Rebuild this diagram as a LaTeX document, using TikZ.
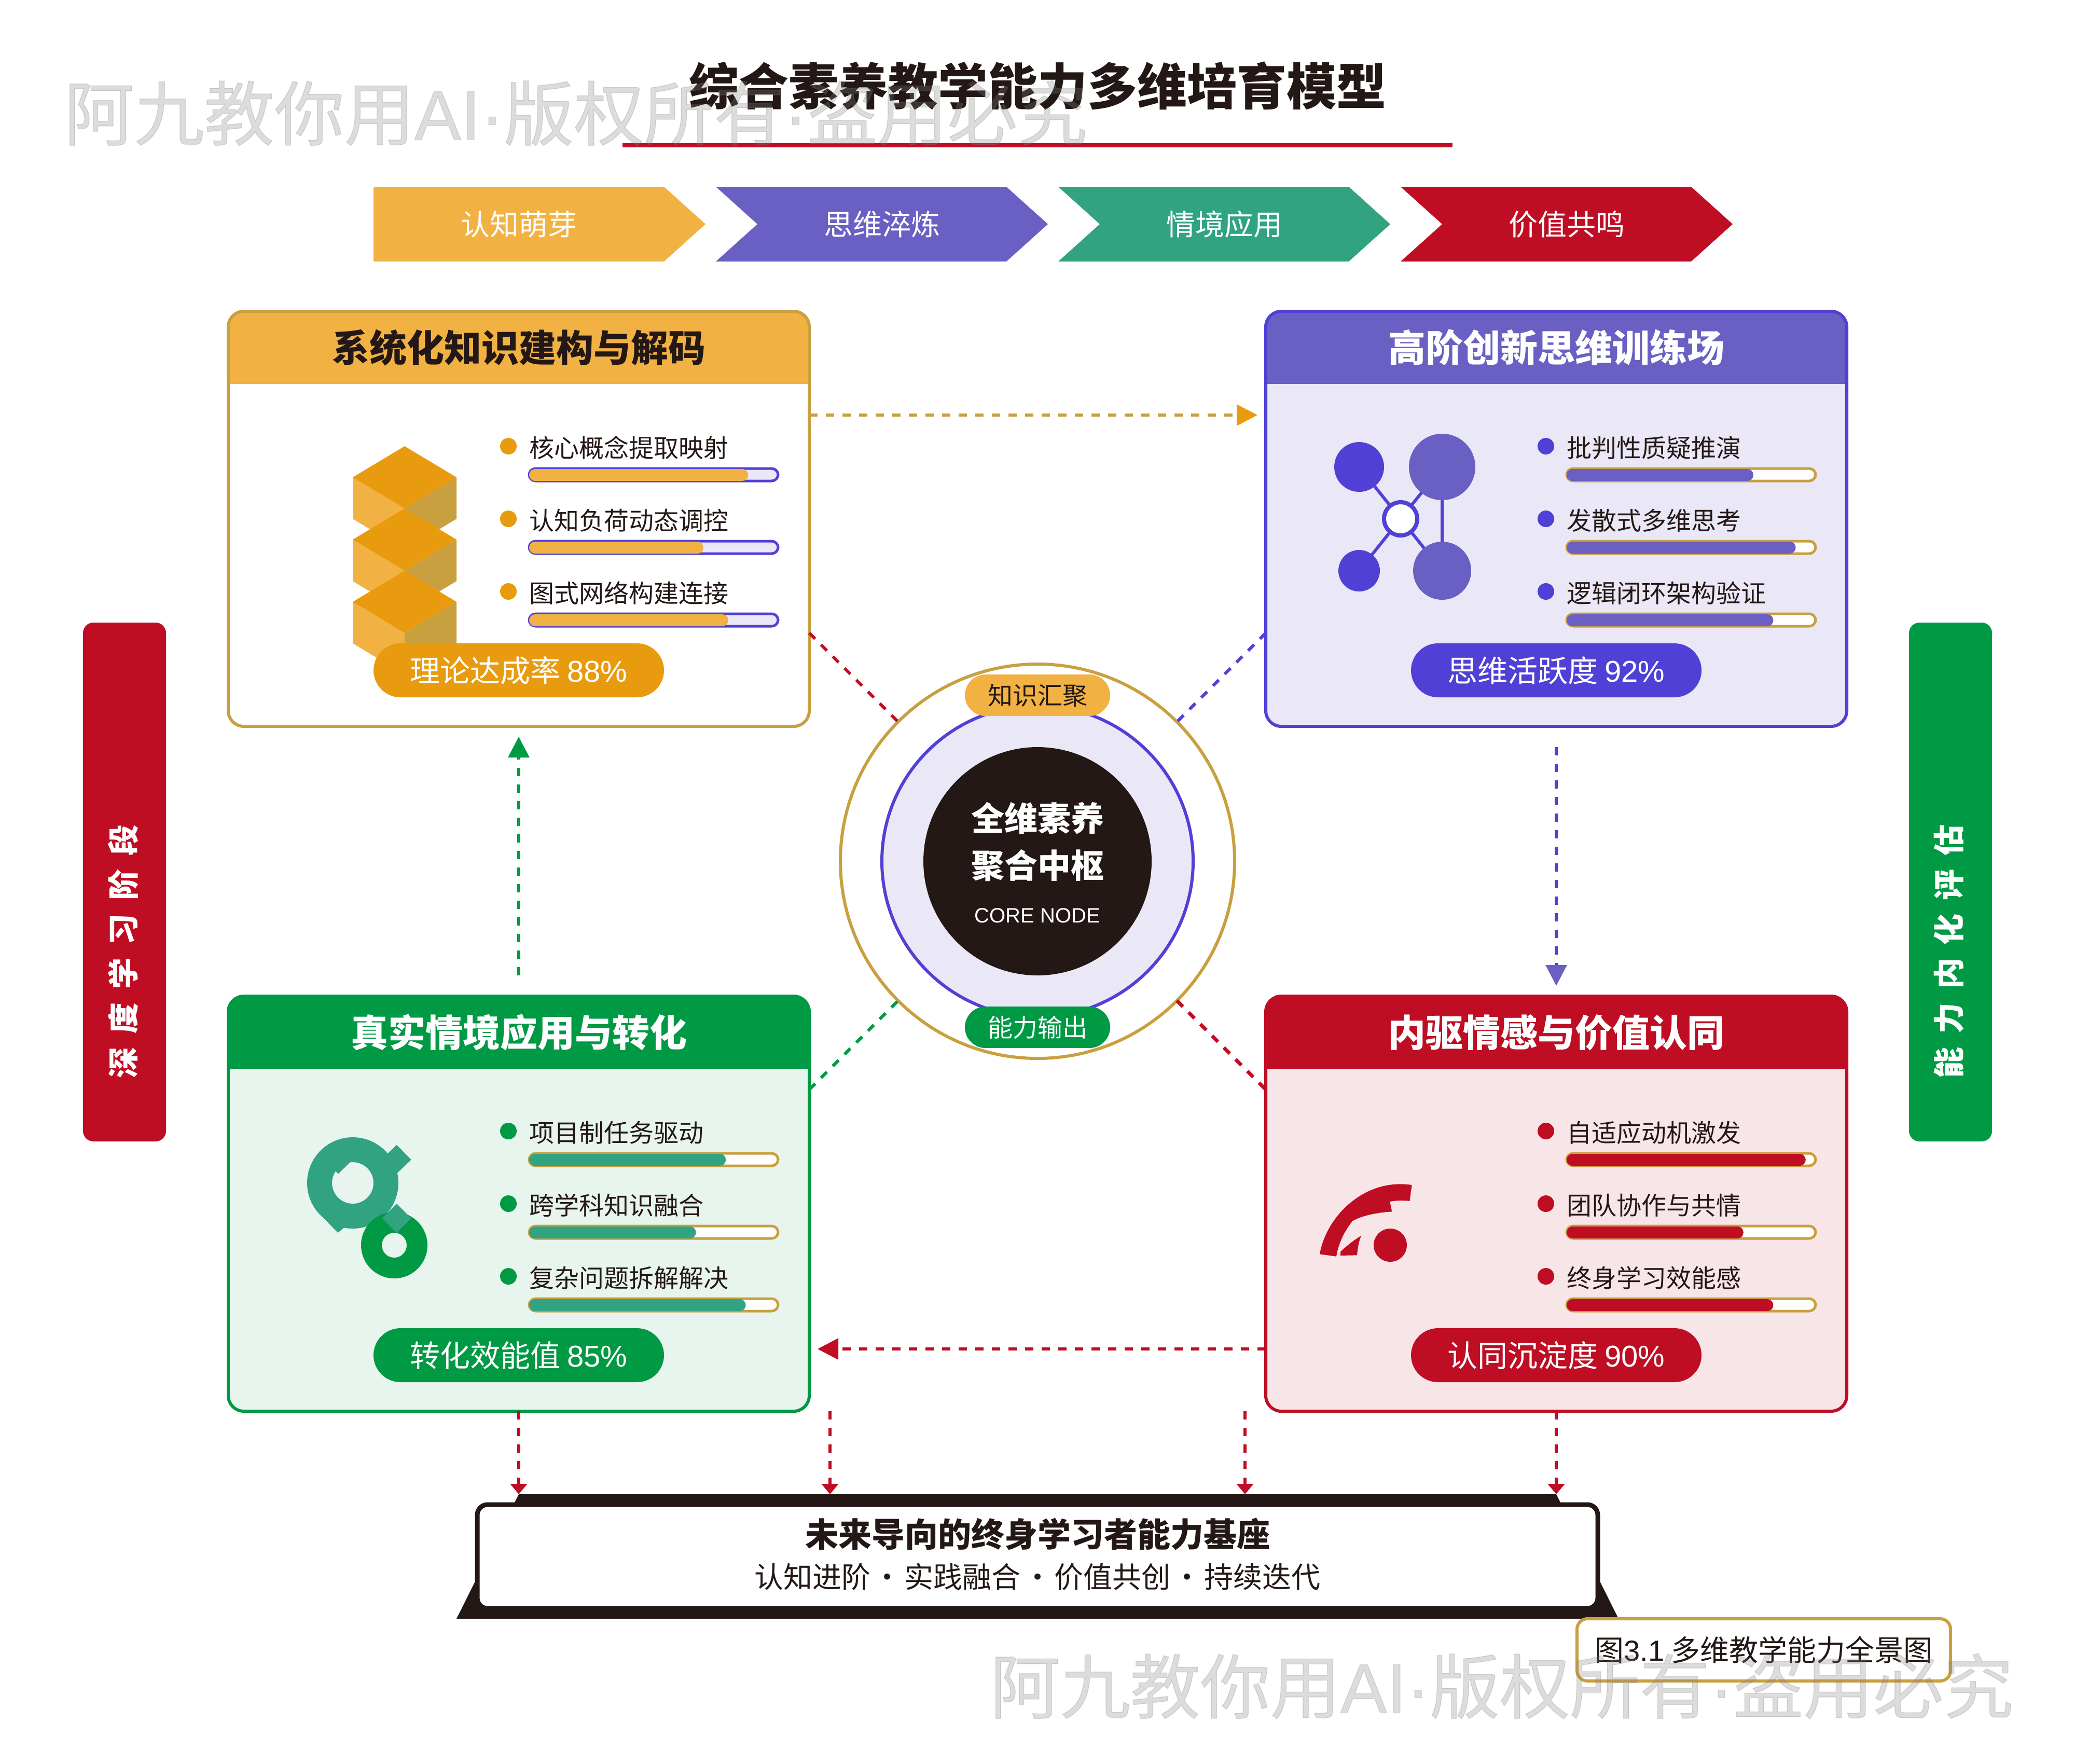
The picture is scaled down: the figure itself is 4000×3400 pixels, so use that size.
\documentclass[tikz,border=0pt]{standalone}
\usepackage{fontspec}
\setmainfont{Noto Sans CJK SC}
\newfontfamily\latinfont{Liberation Sans}
\newfontfamily\markfont[FakeBold=1]{Noto Sans CJK SC}
\newfontfamily\marklatin[FakeBold=1]{Liberation Sans}
\usetikzlibrary{arrows.meta,calc}

\definecolor{amberlight}{HTML}{F2B243}
\definecolor{amberdeep}{HTML}{E99B0F}
\definecolor{goldline}{HTML}{C9A040}
\definecolor{violetsoft}{HTML}{6A5FC3}
\definecolor{violetdeep}{HTML}{5140D6}
\definecolor{violetpale}{HTML}{EAE8F6}
\definecolor{greendeep}{HTML}{009944}
\definecolor{greenteal}{HTML}{31A381}
\definecolor{greenpale}{HTML}{E8F5EE}
\definecolor{redmain}{HTML}{BF0E24}
\definecolor{redpale}{HTML}{F8E5E7}
\definecolor{inkdark}{HTML}{231815}
\definecolor{markgray}{HTML}{808080}

\newcommand{\fsz}[1]{\fontsize{#1pt}{#1pt}\selectfont}

\tikzset{
  cardbox/.style={minimum width=1120pt, minimum height=800pt, inner sep=0pt, outer sep=0pt, rounded corners=30pt},
  sidebar/.style={minimum width=160pt, minimum height=1000pt, inner sep=0pt, outer sep=0pt, rounded corners=20pt},
  badge/.style={minimum width=560pt, minimum height=104pt, inner sep=0pt, rounded corners=52pt, text=white, font=\fsz{58}},
  pill/.style={minimum width=280pt, minimum height=80pt, inner sep=0pt, rounded corners=40pt, font=\fsz{48}},
  ring/.style={circle, inner sep=0pt, outer sep=0pt},
  headtext/.style={font=\fsz{72}\bfseries, inner sep=0pt},
  itemtext/.style={font=\fsz{48}, text=inkdark, inner sep=0pt, anchor=west},
  steptext/.style={font=\fsz{56}, text=white, inner sep=0pt},
  sidetext/.style={font=\fsz{60}\bfseries\addfontfeature{LetterSpace=43}, text=white, inner sep=0pt, rotate=90},
  watermark/.style={font=\fsz{135}\markfont, text=markgray, opacity=0.27, inner sep=0pt},
  flowline/.style={line width=6pt, dash pattern=on 16pt off 16pt},
  baseline/.style={line width=5.5pt, dash pattern=on 16pt off 16pt},
  bigtip/.style={-{Triangle[length=40pt,width=40pt,color=#1]}},
  smalltip/.style={-{Triangle[length=20pt,width=32pt,color=#1]}},
}

% one bullet, label and progress bar inside a card
\newcommand{\skillrow}[7]{%
  \fill[#2] (-20,#1) circle (16pt);
  \node[itemtext] (item#2#1) at (20,#1+3) {#7};
  \draw[#3, fill=#4, line width=5pt, rounded corners=12.5pt] (20,#1+43) rectangle (500,#1+67);
  \fill[#5, rounded corners=11.5pt] (20,#1+44) rectangle (20+4.8*#6,#1+67);
}

% card body, header band and border
\newcommand{\cardpanel}[8]{%
  \node[cardbox, fill=#4] (#1) at (#2,#3) {};
  \begin{scope}
    \clip[shift={(#2,#3)}, rounded corners=30pt] (-560,-400) rectangle (560,400);
    \fill[shift={(#2,#3)}, #6] (-560,-400) rectangle (560,-260);
  \end{scope}
  \draw[shift={(#2,#3)}, #5, line width=6pt, rounded corners=30pt] (-560,-400) rectangle (560,400);
  \node[headtext, text=#7] (#1 head) at ($(#1.center)+(0,-330)$) {#8};
}

\begin{document}
\begin{tikzpicture}[x=1pt, y=-1pt]
\useasboundingbox (0,0) rectangle (4000,3400);
\fill[white] (0,0) rectangle (4000,3400);

% Title
\node[font=\fsz{96}\bfseries, text=inkdark, inner sep=0pt] (title) at (2000,165) {综合素养教学能力多维培育模型};
\coordinate (ruleL) at (1200,280);
\coordinate (ruleR) at (2800,280);
\draw[redmain, line width=8pt] (ruleL) -- (ruleR);

% Stage chevrons
\fill[amberlight] (720,360) -- (1280,360) -- (1360,432) -- (1280,504) -- (720,504) -- cycle;
\fill[violetsoft] (1380,360) -- (1940,360) -- (2020,432) -- (1940,504) -- (1380,504) -- (1460,432) -- cycle;
\fill[greenteal] (2040,360) -- (2600,360) -- (2680,432) -- (2600,504) -- (2040,504) -- (2120,432) -- cycle;
\fill[redmain] (2700,360) -- (3260,360) -- (3340,432) -- (3260,504) -- (2700,504) -- (2780,432) -- cycle;
\node[steptext] (stepA) at (1000,432) {认知萌芽};
\node[steptext] (stepB) at (1700,432) {思维淬炼};
\node[steptext] (stepC) at (2360,432) {情境应用};
\node[steptext] (stepD) at (3020,432) {价值共鸣};

% Side bars
\node[sidebar, fill=redmain] (sideL) at (240,1700) {};
\node[sidebar, fill=greendeep] (sideR) at (3760,1700) {};
\node[sidetext] (sideLtext) at (237,1834) {深度学习阶段};
\node[sidetext] (sideRtext) at (3757,1834) {能力内化评估};

% Cards
\cardpanel{know}{1000}{1000}{white}{goldline}{amberlight}{inkdark}{系统化知识建构与解码}
\cardpanel{think}{3000}{1000}{violetpale}{violetdeep}{violetsoft}{white}{高阶创新思维训练场}
\cardpanel{apply}{1000}{2320}{greenpale}{greendeep}{greendeep}{white}{真实情境应用与转化}
\cardpanel{drive}{3000}{2320}{redpale}{redmain}{redmain}{white}{内驱情感与价值认同}

% Connectors
\coordinate (rowTop) at (0,800);
\coordinate (rowLow) at (0,2600);
\coordinate (baseL) at (1600,2720);
\coordinate (baseR) at (2400,2720);
\coordinate (knowOut) at (1560,1220);
\coordinate (thinkOut) at (2440,1220);
\coordinate (applyOut) at (1560,2100);
\coordinate (driveOut) at (2440,2100);
\draw[goldline, flowline, bigtip=amberdeep] (know.east |- rowTop) -- ([xshift=-16pt]think.west |- rowTop);
\draw[violetdeep, flowline, bigtip=violetsoft] ([yshift=-40pt]think.south) -- ([yshift=20pt]drive.north);
\draw[redmain, flowline, bigtip=redmain] (drive.west |- rowLow) -- ([xshift=16pt]apply.east |- rowLow);
\draw[greendeep, flowline, bigtip=greendeep] ([yshift=40pt]apply.north) -- ([yshift=-20pt]know.south);

% Card contents: knowledge
\begin{scope}[shift={(1000,1000)}]
  \foreach \cubey in {-140,-20,100} {
    \fill[amberlight] (-320,\cubey+60) -- (-220,\cubey+120) -- (-220,\cubey+200) -- (-320,\cubey+140) -- cycle;
    \fill[goldline] (-120,\cubey+60) -- (-220,\cubey+120) -- (-220,\cubey+200) -- (-120,\cubey+140) -- cycle;
    \fill[amberdeep] (-220,\cubey) -- (-120,\cubey+60) -- (-220,\cubey+120) -- (-320,\cubey+60) -- cycle;
  }
  \foreach \rowy/\rowpct/\rowtext in {-140/88/核心概念提取映射, 0/70/认知负荷动态调控, 140/80/图式网络构建连接} {
    \skillrow{\rowy}{amberdeep}{violetdeep}{violetpale}{amberlight}{\rowpct}{\rowtext}
  }
\end{scope}
\node[badge, fill=amberdeep] (knowBadge) at (1000,1292) {理论达成率 {\latinfont 88\%}};

% Card contents: thinking
\begin{scope}[shift={(3000,1000)}]
  \coordinate (netA) at (-380,-100);
  \coordinate (netB) at (-220,-100);
  \coordinate (netC) at (-380,100);
  \coordinate (netD) at (-220,100);
  \coordinate (netM) at (-300,0);
  \draw[violetdeep, line width=6pt] (netM) -- (netA) (netM) -- (netB) (netM) -- (netC) (netM) -- (netD) (netB) -- (netD);
  \fill[violetdeep] (netA) circle (48pt);
  \fill[violetsoft] (netB) circle (64pt);
  \fill[violetdeep] (netC) circle (40pt);
  \fill[violetsoft] (netD) circle (56pt);
  \draw[violetdeep, fill=white, line width=8pt] (netM) circle (32pt);
  \foreach \rowy/\rowpct/\rowtext in {-140/75/批判性质疑推演, 0/92/发散式多维思考, 140/83/逻辑闭环架构验证} {
    \skillrow{\rowy}{violetdeep}{goldline}{white}{violetsoft}{\rowpct}{\rowtext}
  }
\end{scope}
\node[badge, fill=violetdeep] (thinkBadge) at (3000,1292) {思维活跃度 {\latinfont 92\%}};

% Card contents: application
\fill[greenteal, even odd rule] (680,2280) circle (88pt) (680,2280) circle (40pt);
\fill[greenteal] (747.3,2223.3) -- (764.7,2206.7) -- (792.7,2235.3) -- (766,2260.7) -- (740,2270) -- cycle;
\fill[greenteal] (623.3,2347.3) -- (651.3,2376) -- (662.7,2366.7) -- (660,2340) -- cycle;
\fill[greenteal] (647.3,2257.3) -- (651.7,2262.7) -- (675,2240) -- (660,2225) -- cycle;
\fill[greendeep, even odd rule] (760,2400) circle (64pt) (760,2400) circle (24pt);
\fill[greenteal] (764.7,2320) -- (792.7,2348) -- (764.7,2376) -- (736.7,2348) -- cycle;
\begin{scope}[shift={(1000,2320)}]
  \foreach \rowy/\rowpct/\rowtext in {-140/79/项目制任务驱动, 0/67/跨学科知识融合, 140/87/复杂问题拆解解决} {
    \skillrow{\rowy}{greendeep}{goldline}{white}{greenteal}{\rowpct}{\rowtext}
  }
\end{scope}
\node[badge, fill=greendeep] (applyBadge) at (1000,2612) {转化效能值 {\latinfont 85\%}};

% Card contents: drive
\fill[redmain] (2544,2417.3) .. controls (2556.7,2343.3) and (2631.7,2270) .. (2721.7,2284)
  -- (2717.3,2315) .. controls (2705,2313) and (2690,2314) .. (2679.3,2316)
  -- (2683.3,2335.3) .. controls (2655,2337) and (2625,2343) .. (2607.3,2353.3)
  .. controls (2590,2375) and (2580,2398) .. (2576,2421.7) -- cycle;
\fill[redmain] (2584,2412.7) .. controls (2595,2402) and (2610,2390) .. (2624,2381.7)
  .. controls (2619,2394) and (2617,2407) .. (2616,2419.3) -- (2584,2420) -- cycle;
\fill[redmain] (2680,2400) circle (32pt);
\begin{scope}[shift={(3000,2320)}]
  \foreach \rowy/\rowpct/\rowtext in {-140/96/自适应动机激发, 0/71/团队协作与共情, 140/83/终身学习效能感} {
    \skillrow{\rowy}{redmain}{goldline}{white}{redmain}{\rowpct}{\rowtext}
  }
\end{scope}
\node[badge, fill=redmain] (driveBadge) at (3000,2612) {认同沉淀度 {\latinfont 90\%}};

% Central hub
\node[ring, draw=goldline, fill=white, line width=6pt, minimum size=760pt] (hub) at (2000,1660) {};
\node[ring, draw=violetdeep, fill=violetpale, line width=6pt, minimum size=600pt] (hubMid) at (2000,1660) {};
\node[ring, fill=inkdark, minimum size=440pt] (hubCore) at (2000,1660) {};
\node[font=\fsz{64}\bfseries, text=white, inner sep=0pt] (coreA) at (2000,1577) {全维素养};
\node[font=\fsz{64}\bfseries, text=white, inner sep=0pt] (coreB) at (2000,1668) {聚合中枢};
\node[font=\fsz{40}\latinfont, text=white, inner sep=0pt] (coreC) at (2000,1765) {CORE NODE};
\node[pill, fill=amberlight, text=inkdark] (pillTop) at (2000,1340) {知识汇聚};
\node[pill, fill=greendeep, text=white] (pillLow) at (2000,1980) {能力输出};

% Diagonal links
\draw[redmain, flowline] (knowOut) -- (hub.135);
\draw[violetdeep, flowline] (thinkOut) -- (hub.45);
\draw[greendeep, flowline] (applyOut) -- (hub.225);
\draw[redmain, flowline, line width=7pt] (hub.315) -- (driveOut);

% Foundation
\fill[inkdark] (1000,2880) -- (3000,2880) -- (3120,3120) -- (880,3120) -- cycle;
\node[draw=inkdark, fill=white, line width=9pt, minimum width=2160pt, minimum height=200pt, inner sep=0pt, outer sep=0pt, rounded corners=20pt] (plinth) at (2000,3000) {};
\node[font=\fsz{64}\bfseries, text=inkdark, inner sep=0pt] (plinthA) at (2000,2957) {未来导向的终身学习者能力基座};
\node[font=\fsz{56}, text=inkdark, inner sep=0pt] (plinthB) at (2000,3039) {认知进阶\makebox[65pt]{·}实践融合\makebox[65pt]{·}价值共创\makebox[65pt]{·}持续迭代};
\draw[redmain, baseline, smalltip=redmain] (apply.south) -- ([yshift=20pt]apply.south |- plinth.north);
\draw[redmain, baseline, smalltip=redmain] (baseL) -- ([yshift=20pt]baseL |- plinth.north);
\draw[redmain, baseline, smalltip=redmain] (baseR) -- ([yshift=20pt]baseR |- plinth.north);
\draw[redmain, baseline, smalltip=redmain] (drive.south) -- ([yshift=20pt]drive.south |- plinth.north);

% Caption
\node[draw=goldline, fill=white, line width=6pt, minimum width=720pt, minimum height=120pt, inner sep=0pt, rounded corners=20pt, font=\fsz{56}, text=inkdark] (caption) at (3400,3180) {图{\latinfont 3.1} 多维教学能力全景图};

% Watermarks
\node[watermark] (markTop) at (1110,218) {阿九教你用{\marklatin AI·}版权所有{\marklatin ·}盗用必究};
\node[watermark] (markLow) at (2895,3250) {阿九教你用{\marklatin AI·}版权所有{\marklatin ·}盗用必究};
\end{tikzpicture}
\end{document}
